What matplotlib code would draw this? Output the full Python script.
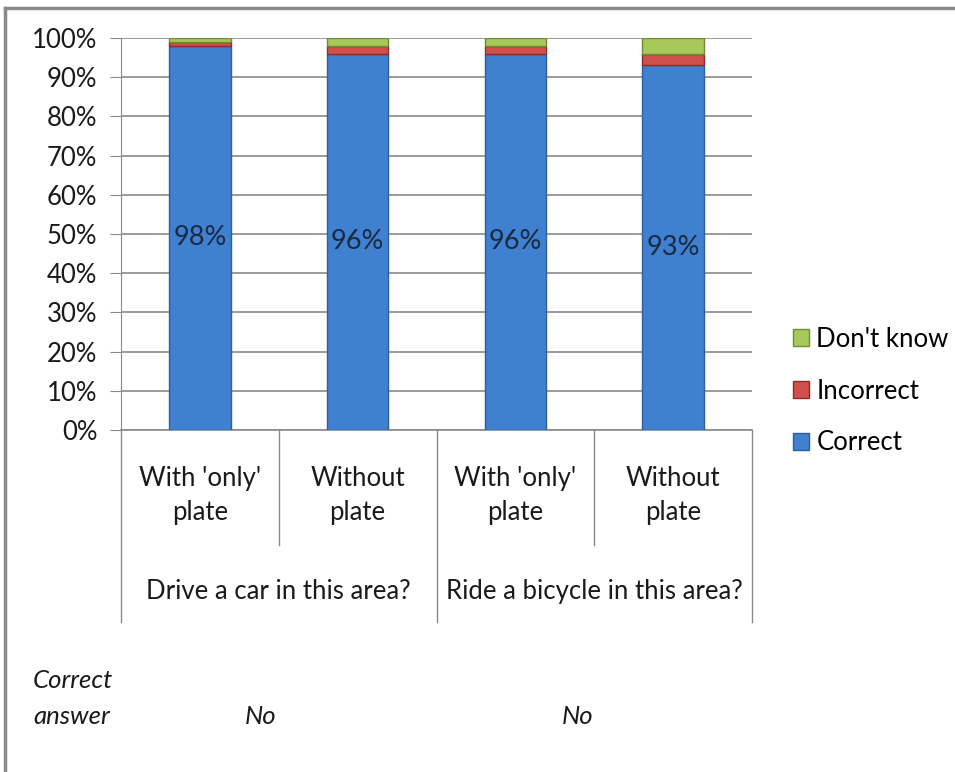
import matplotlib.pyplot as plt
import matplotlib.transforms as mtransforms
from matplotlib.lines import Line2D
import numpy as np

plt.rcParams['font.family'] = ['Lato', 'DejaVu Sans']

# data
categories = ["With 'only'\nplate", "Without\nplate", "With 'only'\nplate", "Without\nplate"]
groups = ["Drive a car in this area?", "Ride a bicycle in this area?"]
correct_answers = ["No", "No"]
correct = [98, 96, 96, 93]
incorrect = [1, 2, 2, 3]
dont_know = [1, 2, 2, 4]
labels = ["98%", "96%", "96%", "93%"]

fs = 18.5
fig = plt.figure(figsize=(9.55, 7.72), dpi=100)
ax = fig.add_axes([121 / 955, 1 - 430 / 772, 631 / 955, 392 / 772])

x = np.arange(len(categories))
w = 0.39
ax.bar(x, correct, w, color='#3f80d0', edgecolor='#2d5f9e', linewidth=1, label='Correct', zorder=3)
ax.bar(x, incorrect, w, bottom=correct, color='#cf4f4b', edgecolor='#8e2c2a', linewidth=1,
       label='Incorrect', zorder=3)
bottoms = np.array(correct) + np.array(incorrect)
ax.bar(x, dont_know, w, bottom=bottoms, color='#a9c85c', edgecolor='#6f8c34', linewidth=1,
       label="Don't know", zorder=3)

for xi, v, lab in zip(x, correct, labels):
    ax.text(xi, v / 2, lab, ha='center', va='center', fontsize=fs + 1, color='#1a2a40', zorder=4)

ax.set_xlim(-0.5, 3.5)
ax.set_ylim(0, 100)
ax.set_yticks(np.arange(0, 101, 10))
ax.set_yticklabels([f"{t}%" for t in range(0, 101, 10)], fontsize=fs, color='#1a1a1a')
ax.yaxis.grid(True, color='#8a8a8a', linewidth=1.2)
ax.set_axisbelow(True)
ax.tick_params(axis='y', length=8, color='#8a8a8a', pad=9)
ax.set_xticks([])
for s in ['top', 'right']:
    ax.spines[s].set_visible(False)
ax.spines['left'].set_color('#8a8a8a')
ax.spines['bottom'].set_color('#8a8a8a')
ax.spines['bottom'].set_linewidth(1.2)

# category axis separators and labels
trans = mtransforms.blended_transform_factory(ax.transData, ax.transAxes)
for xs in [0.5, 2.5]:
    ax.add_line(Line2D([xs, xs], [0, -0.293], transform=trans, color='#8a8a8a', lw=1, clip_on=False))
for xs in [-0.5, 1.5, 3.5]:
    ax.add_line(Line2D([xs, xs], [0, -0.49], transform=trans, color='#8a8a8a', lw=1, clip_on=False))
for xi, c in zip(x, categories):
    ax.text(xi, -0.166, c, transform=trans, ha='center', va='center', fontsize=fs,
            linespacing=1.45, color='#1a1a1a')
for gi, g in enumerate(groups):
    ax.text(gi * 2 + 0.5, -0.412, g, transform=trans, ha='center', va='center', fontsize=fs,
            color='#1a1a1a')

# correct answer row
fig.text(33 / 955, 1 - 680 / 772, "Correct", fontsize=fs, style='italic', va='center', color='#1a1a1a')
fig.text(33 / 955, 1 - 716 / 772, "answer", fontsize=fs, style='italic', va='center', color='#1a1a1a')
for xc, a in zip([261, 578], correct_answers):
    fig.text(xc / 955, 1 - 716 / 772, a, fontsize=fs, style='italic', ha='center', va='center',
             color='#1a1a1a')

# legend
h, l = ax.get_legend_handles_labels()
fig.legend(h[::-1], l[::-1], loc='center left', bbox_to_anchor=(770 / 955, 1 - 391 / 772),
           frameon=False, fontsize=fs, handlelength=0.6, handleheight=0.6, handletextpad=0.3,
           labelspacing=1.05)

# chart border
fig.add_artist(Line2D([5 / 955, 1], [1 - 8 / 772, 1 - 8 / 772], color='#8a8a8a', lw=2.5))
fig.add_artist(Line2D([5 / 955, 5 / 955], [0, 1 - 8 / 772], color='#8a8a8a', lw=2.5))

fig.savefig('out.png', dpi=100)
